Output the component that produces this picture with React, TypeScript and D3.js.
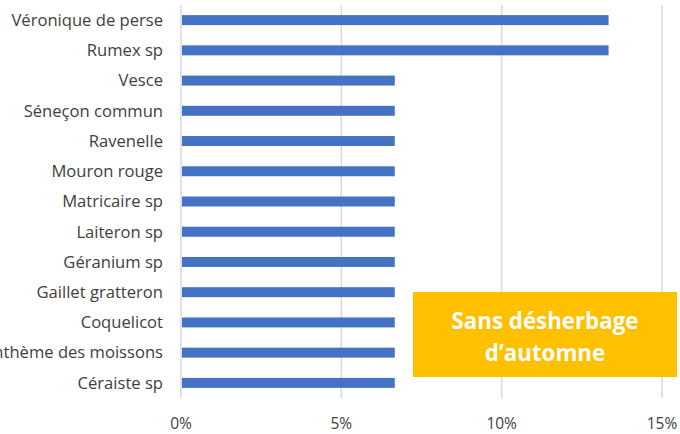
import * as d3 from 'd3';
import React, { useEffect, useRef } from 'react';

const species = [
  'Véronique de perse',
  'Rumex sp',
  'Vesce',
  'Séneçon commun',
  'Ravenelle',
  'Mouron rouge',
  'Matricaire sp',
  'Laiteron sp',
  'Géranium sp',
  'Gaillet gratteron',
  'Coquelicot',
  'Anthème des moissons',
  'Céraiste sp',
];
const shares = [
  2 / 15, 2 / 15, 1 / 15, 1 / 15, 1 / 15, 1 / 15, 1 / 15, 1 / 15, 1 / 15, 1 / 15, 1 / 15, 1 / 15, 1 / 15,
];
const xTicks = [0, 0.05, 0.1, 0.15];
const noteLines = ['Sans désherbage', 'd’automne'];

const App = () => {
  const svgRef = useRef<SVGSVGElement>(null);

  useEffect(() => {
    const width = 680;
    const height = 434;
    const margin = { top: 5, right: 18, bottom: 36, left: 181 };

    const svg = d3.select(svgRef.current).attr('width', width).attr('height', height);
    svg.selectAll('*').remove();

    const x = d3
      .scaleLinear()
      .domain([0, 0.15])
      .range([margin.left, width - margin.right]);

    const y = d3
      .scaleBand<string>()
      .domain(species)
      .range([margin.top, height - margin.bottom])
      .paddingInner(0.67)
      .paddingOuter(0.335);

    const font = '"Open Sans", Lato, sans-serif';

    // grille verticale
    svg
      .append('g')
      .selectAll('line')
      .data(xTicks)
      .join('line')
      .attr('x1', (d) => x(d))
      .attr('x2', (d) => x(d))
      .attr('y1', margin.top)
      .attr('y2', height - margin.bottom)
      .attr('stroke', '#d9d9d9')
      .attr('stroke-width', 1.5);

    // barres
    svg
      .append('g')
      .selectAll('rect')
      .data(species)
      .join('rect')
      .attr('x', x(0) + 1)
      .attr('y', (d) => y(d)!)
      .attr('width', (d, i) => x(shares[i]) - x(0) - 1)
      .attr('height', y.bandwidth())
      .attr('fill', '#4472c4');

    // étiquettes des catégories
    svg
      .append('g')
      .selectAll('text')
      .data(species)
      .join('text')
      .attr('x', margin.left - 18)
      .attr('y', (d) => y(d)! + y.bandwidth() / 2)
      .attr('dy', '0.35em')
      .attr('text-anchor', 'end')
      .attr('font-family', font)
      .attr('font-size', 16.6)
      .attr('fill', '#404040')
      .text((d) => d);

    // axe x
    svg
      .append('g')
      .selectAll('text')
      .data(xTicks)
      .join('text')
      .attr('x', (d) => x(d))
      .attr('y', 424)
      .attr('dy', '0.35em')
      .attr('text-anchor', 'middle')
      .attr('font-family', font)
      .attr('font-size', 15.5)
      .attr('fill', '#404040')
      .text((d) => d3.format('.0%')(d));

    // encadré
    const note = svg.append('g');
    note
      .append('rect')
      .attr('x', 413)
      .attr('y', 292)
      .attr('width', 264)
      .attr('height', 85)
      .attr('fill', '#ffc000');
    note
      .selectAll('text')
      .data(noteLines)
      .join('text')
      .attr('x', 545)
      .attr('y', (d, i) => 321 + i * 32)
      .attr('dy', '0.35em')
      .attr('text-anchor', 'middle')
      .attr('font-family', font)
      .attr('font-size', 22.3)
      .attr('font-weight', 'bold')
      .attr('fill', '#ffffff')
      .text((d) => d);
  }, []);

  return <svg ref={svgRef} style={{ position: 'absolute', left: 0, top: 0 }} />;
};

export default App;
